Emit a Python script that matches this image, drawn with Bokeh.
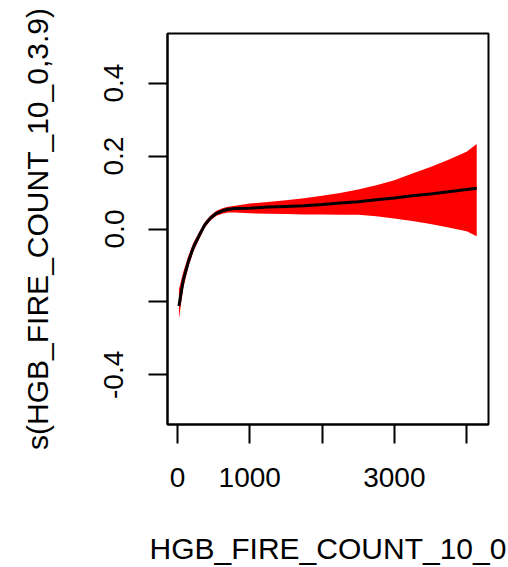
from bokeh.plotting import figure
from bokeh.models import FixedTicker, Range1d
from bokeh.embed import file_html
from bokeh.resources import INLINE

# smooth term estimate and its confidence band
x_vals = [20, 80, 150, 220, 300, 380, 460, 540, 620, 700, 800, 1000, 1250, 1500,
          1750, 2000, 2250, 2500, 2750, 3000, 3250, 3500, 3750, 4000, 4140]
fit = [-0.211, -0.140, -0.090, -0.050, -0.018, 0.012, 0.031, 0.043, 0.050, 0.054,
       0.056, 0.057, 0.060, 0.062, 0.064, 0.067, 0.071, 0.075, 0.080, 0.085,
       0.091, 0.096, 0.102, 0.108, 0.112]
upper = [-0.166, -0.118, -0.074, -0.038, -0.008, 0.020, 0.038, 0.050, 0.057, 0.061,
         0.064, 0.070, 0.074, 0.079, 0.084, 0.091, 0.099, 0.108, 0.120, 0.134,
         0.152, 0.170, 0.190, 0.212, 0.233]
lower = [-0.247, -0.162, -0.105, -0.062, -0.028, 0.004, 0.024, 0.036, 0.042, 0.045,
         0.045, 0.043, 0.042, 0.041, 0.040, 0.040, 0.039, 0.039, 0.035, 0.029,
         0.022, 0.014, 0.004, -0.006, -0.020]

x_ticks = [0, 1000, 2000, 3000, 4000]
x_tick_labels = ["0", "1000", "", "3000", ""]
y_ticks = [-0.4, -0.2, 0.0, 0.2, 0.4]
y_tick_labels = ["-0.4", "", "0.0", "0.2", "0.4"]

x_title = "HGB_FIRE_COUNT_10_0"
y_title = "s(HGB_FIRE_COUNT_10_0,3.9)"

FONT = "Liberation Sans"

p = figure(width=508, height=567, output_backend="svg", toolbar_location=None,
           x_range=Range1d(-138, 4303), y_range=Range1d(-0.536, 0.536),
           min_border_left=167, min_border_right=20, min_border_top=33,
           min_border_bottom=141)

p.xgrid.visible = False
p.ygrid.visible = False
p.background_fill_color = "white"
p.border_fill_color = "white"
p.outline_line_color = "black"
p.outline_line_width = 2

p.varea(x=x_vals, y1=lower, y2=upper, fill_color="#FF0000")
p.line(x_vals, fit, line_color="black", line_width=3)

p.xaxis.ticker = FixedTicker(ticks=x_ticks)
p.xaxis.major_label_overrides = {t: l for t, l in zip(x_ticks, x_tick_labels)}
p.yaxis.ticker = FixedTicker(ticks=y_ticks)
p.yaxis.major_label_overrides = {t: l for t, l in zip(y_ticks, y_tick_labels)}
p.yaxis.major_label_orientation = "vertical"

p.xaxis.axis_label = x_title
p.yaxis.axis_label = y_title

for ax in (p.xaxis[0], p.yaxis[0]):
    ax.axis_line_color = "black"
    ax.axis_line_width = 2
    ax.major_tick_line_color = "black"
    ax.major_tick_line_width = 2
    ax.major_tick_out = 19
    ax.major_tick_in = 0
    ax.minor_tick_line_color = None
    ax.major_label_text_font = FONT
    ax.major_label_text_font_size = "28px"
    ax.major_label_text_color = "black"
    ax.axis_label_text_font = FONT
    ax.axis_label_text_font_size = "30px"
    ax.axis_label_text_font_style = "normal"
    ax.axis_label_text_color = "black"

p.xaxis.major_label_standoff = 24
p.xaxis.axis_label_standoff = 42
p.yaxis.major_label_standoff = 25
p.yaxis.axis_label_standoff = 48

open("out.html", "w").write(file_html(p, INLINE))
